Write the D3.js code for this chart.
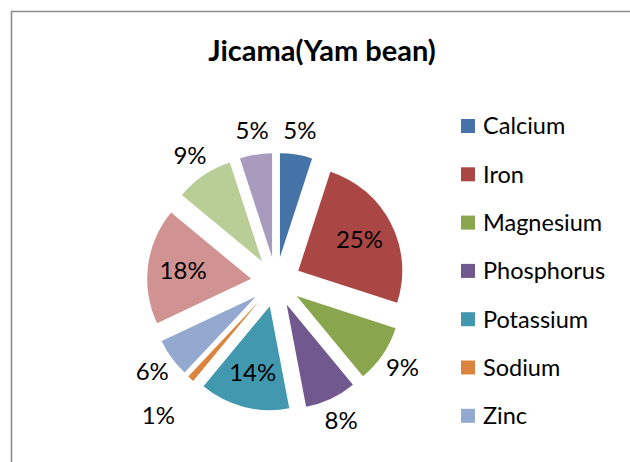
<!DOCTYPE html>
<html>
<head>
    <title>Jicama(Yam bean)</title>
    <script src="https://d3js.org/d3.v7.min.js"></script>
    <style>
        body { margin: 0; background: #fff; }
        text { font-family: Lato, "Open Sans", sans-serif; fill: #000; }
    </style>
</head>
<body>
    <div id="chart"></div>
    <script>
        // data (legend in the reference stops at Zinc)
        var categories = ["Calcium", "Iron", "Magnesium", "Phosphorus", "Potassium", "Sodium", "Zinc"];
        var values = [5, 25, 9, 8, 14, 1, 6, 18, 9, 5];
        var colors = ["#4572A7", "#AA4643", "#89A54E", "#71588F", "#4198AF",
                      "#DB843D", "#93A9CF", "#D19392", "#B9CD96", "#A99BBD"];
        var title = "Jicama(Yam bean)";

        var width = 630, height = 462;
        var cx = 276, cy = 282;
        var radius = 104, explode = 25;

        var svg = d3.select("#chart")
            .append("svg")
            .attr("width", width)
            .attr("height", height);

        // chart area border (cut off on the right and bottom)
        svg.append("path")
            .attr("d", "M11.5," + height + "V11.5H" + width)
            .attr("fill", "none")
            .attr("stroke", "#8c8c8c")
            .attr("stroke-width", 1.6);

        svg.append("text")
            .attr("x", 322)
            .attr("y", 61)
            .attr("text-anchor", "middle")
            .style("font-size", "29px")
            .style("font-weight", "bold")
            .text(title);

        var pie = d3.pie().sort(null).value(function(d) { return d; });
        var arcs = pie(values);
        var totalVal = d3.sum(values);

        var arc = d3.arc().innerRadius(0).outerRadius(radius);

        var g = svg.append("g")
            .attr("transform", "translate(" + cx + "," + cy + ")");

        function mid(d) { return (d.startAngle + d.endAngle) / 2; }

        g.selectAll("path.slice")
            .data(arcs)
            .enter()
            .append("path")
            .attr("class", "slice")
            .attr("d", arc)
            .attr("fill", function(d, i) { return colors[i]; })
            .attr("transform", function(d) {
                var a = mid(d);
                return "translate(" + (explode * Math.sin(a)) + "," + (-explode * Math.cos(a)) + ")";
            });

        // percentage labels: big slices inside, small ones outside
        g.selectAll("text.lbl")
            .data(arcs)
            .enter()
            .append("text")
            .attr("class", "lbl")
            .attr("text-anchor", "middle")
            .attr("dy", "0.35em")
            .style("font-size", "24px")
            .attr("x", function(d) {
                return labelR(d) * Math.sin(mid(d));
            })
            .attr("y", function(d) {
                return -labelR(d) * Math.cos(mid(d));
            })
            .text(function(d) { return Math.round(d.value / totalVal * 100) + "%"; });

        function labelR(d) {
            if (d.value >= 10) return explode + radius * 0.66;
            if (d.value < 3) return 178; // pushed out to clear the neighbour label
            return 153;
        }

        // legend
        var legend = svg.append("g")
            .attr("transform", "translate(461,119)");

        var item = legend.selectAll("g")
            .data(categories)
            .enter()
            .append("g")
            .attr("transform", function(d, i) { return "translate(0," + (i * 48.3) + ")"; });

        item.append("rect")
            .attr("width", 14)
            .attr("height", 14)
            .attr("fill", function(d, i) { return colors[i]; });

        item.append("text")
            .attr("x", 22)
            .attr("y", 7)
            .attr("dy", "0.36em")
            .style("font-size", "23.5px")
            .text(function(d) { return d; });
    </script>
</body>
</html>
